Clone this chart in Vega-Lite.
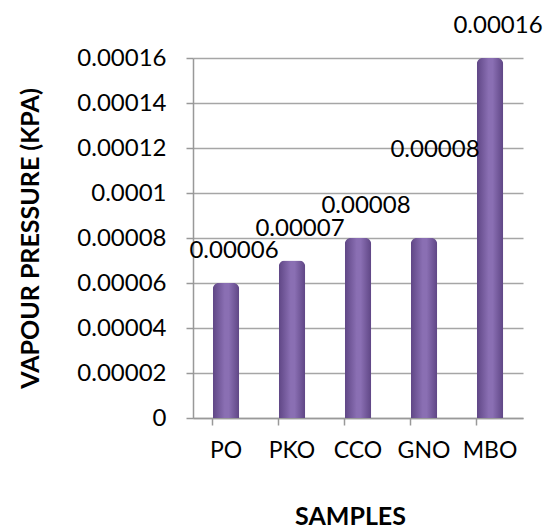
{
  "$schema": "https://vega.github.io/schema/vega-lite/v6.json",
  "autosize": "none",
  "width": 330,
  "height": 360,
  "padding": {"left": 193, "top": 58, "right": 34, "bottom": 110},
  "background": "white",
  "config": {"view": {"stroke": null}, "font": "Lato"},
  "data": {"values": [
    {"sample": "PO", "vp": 0.00006, "label": "0.00006"},
    {"sample": "PKO", "vp": 0.00007, "label": "0.00007"},
    {"sample": "CCO", "vp": 0.00008, "label": "0.00008"},
    {"sample": "GNO", "vp": 0.00008, "label": "0.00008"},
    {"sample": "MBO", "vp": 0.00016, "label": "0.00016"}
  ]},
  "encoding": {
    "x": {"field": "sample", "type": "nominal", "sort": null,
      "scale": {"paddingInner": 0.6, "paddingOuter": 0.3},
      "axis": {"title": "SAMPLES", "labelAngle": 0, "labelFontSize": 23, "labelColor": "#000", "labelPadding": 14,
        "titleFontSize": 25, "titleFontWeight": "bold", "titleColor": "#000", "titleY": 98, "titleX": 157, "titleBaseline": "middle",
        "domainColor": "#999", "domainWidth": 1.5, "tickColor": "#999", "tickWidth": 1.5, "tickSize": 7, "bandPosition": 0, "grid": false}},
    "y": {"field": "vp", "type": "quantitative",
      "scale": {"domain": [0, 0.00016], "nice": false},
      "axis": {"title": "VAPOUR  PRESSURE (KPA)", "values": [0, 0.00002, 0.00004, 0.00006, 0.00008, 0.0001, 0.00012, 0.00014, 0.00016],
        "labelExpr": "datum.value == 0 ? '0' : format(datum.value, '.5~f')",
        "labelFontSize": 24, "labelColor": "#000", "labelPadding": 20, "tickSize": 7,
        "titleFontSize": 25, "titleFontWeight": "bold", "titleColor": "#000", "titleX": -163, "titleY": 180, "titleAngle": -90, "titleAlign": "center", "titleBaseline": "middle",
        "domainColor": "#999", "domainWidth": 1.5, "tickColor": "#999", "tickWidth": 1.5,
        "gridColor": "#a6a6a6", "gridWidth": 1.5}}
  },
  "layer": [
    {"mark": {"type": "bar", "cornerRadiusTopLeft": 6, "cornerRadiusTopRight": 6,
      "color": {"gradient": "linear", "x1": 0, "y1": 0, "x2": 1, "y2": 0,
        "stops": [{"offset": 0, "color": "#5f4685"}, {"offset": 0.45, "color": "#8a6fb3"}, {"offset": 0.6, "color": "#8a6fb3"}, {"offset": 1, "color": "#5f4685"}]}}},
    {"transform": [{"filter": "datum.sample != 'GNO'"}],
      "mark": {"type": "text", "dy": -20, "dx": 8, "fontSize": 24, "color": "#000", "baseline": "bottom"},
      "encoding": {"text": {"field": "label"}}},
    {"transform": [{"filter": "datum.sample == 'GNO'"}],
      "mark": {"type": "text", "dy": -88, "dx": 11, "fontSize": 24, "color": "#000", "baseline": "middle"},
      "encoding": {"text": {"field": "label"}}}
  ]
}
